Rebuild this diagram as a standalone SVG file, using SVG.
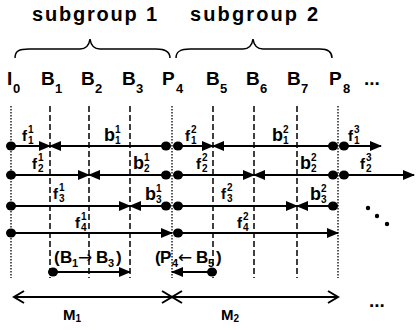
<svg xmlns="http://www.w3.org/2000/svg" width="417" height="330" viewBox="0 0 417 330">
<style>
text{font-family:"Liberation Sans",Arial,sans-serif;font-weight:bold;fill:#000}
.hd{font-size:20px}
.fr{font-size:19px}
.sb{font-size:13px}
.f{font-size:15px}
.b{font-size:18px}
.s{font-size:10px}
.p{font-size:17px}
.ps{font-size:11px}
.ar{font-family:"DejaVu Sans",sans-serif;font-weight:normal;font-size:17px}
.brace{fill:none;stroke:#000;stroke-width:1.5}
.dash{stroke:#000;stroke-width:1.5;stroke-dasharray:6,3}
.dot{stroke:#000;stroke-width:1.3;stroke-dasharray:1.5,1.5}
.ln{stroke:#000;stroke-width:2;fill:none}
.dt{fill:#000}
</style>
<defs>
<marker id="ah" markerUnits="userSpaceOnUse" markerWidth="12" markerHeight="10" refX="11" refY="5" orient="auto"><path d="M0,0 L12,5 L0,10 z" fill="#000"/></marker>
<marker id="ch" markerUnits="userSpaceOnUse" markerWidth="13" markerHeight="14" refX="11" refY="7" orient="auto-start-reverse"><path d="M1,1 L11,7 L1,13" fill="none" stroke="#000" stroke-width="2"/></marker>
</defs>

<g id="subgroups">
<text class="hd" x="32" y="21" textLength="125" lengthAdjust="spacing">subgroup 1</text>
<path class="brace" d="M15,58 C15,51 19,49 29,49 L80,49 C86,49 89,46 90,39 C91,46 94,49 100,49 L156,49 C165,49 170,52 170,58"/>
<text class="hd" x="190" y="21" textLength="128" lengthAdjust="spacing">subgroup 2</text>
<path class="brace" d="M176,58 C176,51 181,49 190,49 L243,49 C249,49 252,46 253,39 C254,46 257,49 263,49 L320,49 C328,49 332,52 332,58"/>
</g>

<g id="frames">
<text class="fr" x="7" y="85">I<tspan class="sb" x="13" y="93">0</tspan></text>
<text class="fr" x="41" y="85">B<tspan class="sb" x="55" y="93">1</tspan></text>
<text class="fr" x="81" y="85">B<tspan class="sb" x="95" y="93">2</tspan></text>
<text class="fr" x="122" y="85">B<tspan class="sb" x="136" y="93">3</tspan></text>
<text class="fr" x="162" y="85">P<tspan class="sb" x="176" y="93">4</tspan></text>
<text class="fr" x="206" y="85">B<tspan class="sb" x="220" y="93">5</tspan></text>
<text class="fr" x="246" y="85">B<tspan class="sb" x="260" y="93">6</tspan></text>
<text class="fr" x="287" y="85">B<tspan class="sb" x="301" y="93">7</tspan></text>
<text class="fr" x="329" y="85">P<tspan class="sb" x="343" y="93">8</tspan></text>
<text class="fr" x="364" y="85">...</text>
</g>

<g id="grid">
<line class="dot" x1="11" y1="106" x2="11" y2="278"/>
<line class="dash" x1="50" y1="106" x2="50" y2="278"/>
<line class="dash" x1="89" y1="106" x2="89" y2="278"/>
<line class="dash" x1="130" y1="106" x2="130" y2="278"/>
<line class="dot" x1="172" y1="106" x2="172" y2="278"/>
<line class="dash" x1="213" y1="106" x2="213" y2="278"/>
<line class="dash" x1="254" y1="106" x2="254" y2="278"/>
<line class="dash" x1="297" y1="106" x2="297" y2="278"/>
<line class="dot" x1="338" y1="106" x2="338" y2="278"/>
</g>

<g id="connectors">
<line class="ln" x1="11" y1="146" x2="50" y2="146" marker-end="url(#ah)"/>
<line class="ln" x1="166" y1="146" x2="50" y2="146" marker-end="url(#ah)"/>
<line class="ln" x1="178" y1="146" x2="213" y2="146" marker-end="url(#ah)"/>
<line class="ln" x1="333" y1="146" x2="213" y2="146" marker-end="url(#ah)"/>
<line class="ln" x1="344" y1="146" x2="381" y2="146" marker-end="url(#ah)"/>
<line class="ln" x1="11" y1="175" x2="89" y2="175" marker-end="url(#ah)"/>
<line class="ln" x1="166" y1="175" x2="89" y2="175" marker-end="url(#ah)"/>
<line class="ln" x1="178" y1="175" x2="254" y2="175" marker-end="url(#ah)"/>
<line class="ln" x1="333" y1="175" x2="254" y2="175" marker-end="url(#ah)"/>
<line class="ln" x1="344" y1="175" x2="414" y2="175" marker-end="url(#ah)"/>
<line class="ln" x1="11" y1="206" x2="130" y2="206" marker-end="url(#ah)"/>
<line class="ln" x1="166" y1="206" x2="130" y2="206" marker-end="url(#ah)"/>
<line class="ln" x1="178" y1="206" x2="297" y2="206" marker-end="url(#ah)"/>
<line class="ln" x1="333" y1="206" x2="297" y2="206" marker-end="url(#ah)"/>
<line class="ln" x1="11" y1="233" x2="172" y2="233" marker-end="url(#ah)"/>
<line class="ln" x1="178" y1="233" x2="338" y2="233" marker-end="url(#ah)"/>
<line class="ln" x1="51" y1="272" x2="130" y2="272" marker-end="url(#ah)"/>
<line class="ln" x1="212" y1="272" x2="172" y2="272" marker-end="url(#ah)"/>
<line class="ln" x1="14" y1="297" x2="172" y2="297" marker-start="url(#ch)" marker-end="url(#ch)"/>
<line class="ln" x1="172" y1="297" x2="338" y2="297" marker-start="url(#ch)" marker-end="url(#ch)"/>
</g>

<g id="dots">
<ellipse class="dt" cx="11" cy="146" rx="5" ry="4.5"/>
<ellipse class="dt" cx="166" cy="146" rx="5" ry="4.5"/>
<ellipse class="dt" cx="178" cy="146" rx="5" ry="4.5"/>
<ellipse class="dt" cx="333" cy="146" rx="5" ry="4.5"/>
<ellipse class="dt" cx="344" cy="146" rx="5" ry="4.5"/>
<ellipse class="dt" cx="11" cy="175" rx="5" ry="4.5"/>
<ellipse class="dt" cx="166" cy="175" rx="5" ry="4.5"/>
<ellipse class="dt" cx="178" cy="175" rx="5" ry="4.5"/>
<ellipse class="dt" cx="333" cy="175" rx="5" ry="4.5"/>
<ellipse class="dt" cx="344" cy="175" rx="5" ry="4.5"/>
<ellipse class="dt" cx="11" cy="206" rx="5" ry="4.5"/>
<ellipse class="dt" cx="166" cy="206" rx="5" ry="4.5"/>
<ellipse class="dt" cx="178" cy="206" rx="5" ry="4.5"/>
<ellipse class="dt" cx="333" cy="206" rx="5" ry="4.5"/>
<ellipse class="dt" cx="11" cy="233" rx="5" ry="4.5"/>
<ellipse class="dt" cx="178" cy="233" rx="5" ry="4.5"/>
<ellipse class="dt" cx="53" cy="272" rx="5" ry="4.5"/>
<ellipse class="dt" cx="212" cy="272" rx="5" ry="4.5"/>
<circle class="dt" cx="368" cy="208" r="2.2"/>
<circle class="dt" cx="377" cy="216" r="2.2"/>
<circle class="dt" cx="387" cy="224" r="2.2"/>
</g>

<g id="labels">
<text class="f" x="22" y="141">f<tspan class="s" x="28" y="133">1</tspan><tspan class="s" x="28" y="144">1</tspan></text>
<text class="b" x="104" y="141">b<tspan class="s" x="115" y="133">1</tspan><tspan class="s" x="115" y="144">1</tspan></text>
<text class="f" x="185" y="141">f<tspan class="s" x="191" y="133">2</tspan><tspan class="s" x="191" y="144">1</tspan></text>
<text class="b" x="272" y="141">b<tspan class="s" x="283" y="133">2</tspan><tspan class="s" x="283" y="144">1</tspan></text>
<text class="f" x="348" y="141">f<tspan class="s" x="354" y="133">3</tspan><tspan class="s" x="354" y="144">1</tspan></text>

<text class="f" x="32" y="169">f<tspan class="s" x="38" y="161">1</tspan><tspan class="s" x="38" y="172">2</tspan></text>
<text class="b" x="133" y="169">b<tspan class="s" x="144" y="161">1</tspan><tspan class="s" x="144" y="172">2</tspan></text>
<text class="f" x="196" y="169">f<tspan class="s" x="202" y="161">2</tspan><tspan class="s" x="202" y="172">2</tspan></text>
<text class="b" x="300" y="169">b<tspan class="s" x="311" y="161">2</tspan><tspan class="s" x="311" y="172">2</tspan></text>
<text class="f" x="360" y="169">f<tspan class="s" x="366" y="161">3</tspan><tspan class="s" x="366" y="172">2</tspan></text>

<text class="f" x="53" y="199">f<tspan class="s" x="59" y="191">1</tspan><tspan class="s" x="59" y="202">3</tspan></text>
<text class="b" x="145" y="200">b<tspan class="s" x="156" y="192">1</tspan><tspan class="s" x="156" y="203">3</tspan></text>
<text class="f" x="221" y="199">f<tspan class="s" x="227" y="191">2</tspan><tspan class="s" x="227" y="202">3</tspan></text>
<text class="b" x="310" y="200">b<tspan class="s" x="321" y="192">2</tspan><tspan class="s" x="321" y="203">3</tspan></text>

<text class="f" x="75" y="228">f<tspan class="s" x="81" y="220">1</tspan><tspan class="s" x="81" y="231">4</tspan></text>
<text class="f" x="237" y="228">f<tspan class="s" x="243" y="220">2</tspan><tspan class="s" x="243" y="231">4</tspan></text>

<text class="p" x="54" y="263">(<tspan x="60">B</tspan><tspan class="ps" x="72" y="267">1</tspan><tspan class="ar" x="78" y="263">→</tspan><tspan x="96">B</tspan><tspan class="ps" x="108" y="267">3</tspan><tspan x="116" y="263">)</tspan></text>
<text class="p" x="155" y="263">(<tspan x="160">P</tspan><tspan class="ps" x="172" y="267">4</tspan><tspan class="ar" x="178" y="263">←</tspan><tspan x="196">B</tspan><tspan class="ps" x="208" y="267">5</tspan><tspan x="216" y="263">)</tspan></text>

<text class="f" x="63" y="320">M<tspan class="s" dy="2">1</tspan></text>
<text class="f" x="221" y="320">M<tspan class="s" dy="2">2</tspan></text>
<text class="fr" x="369" y="307">...</text>
</g>
</svg>
